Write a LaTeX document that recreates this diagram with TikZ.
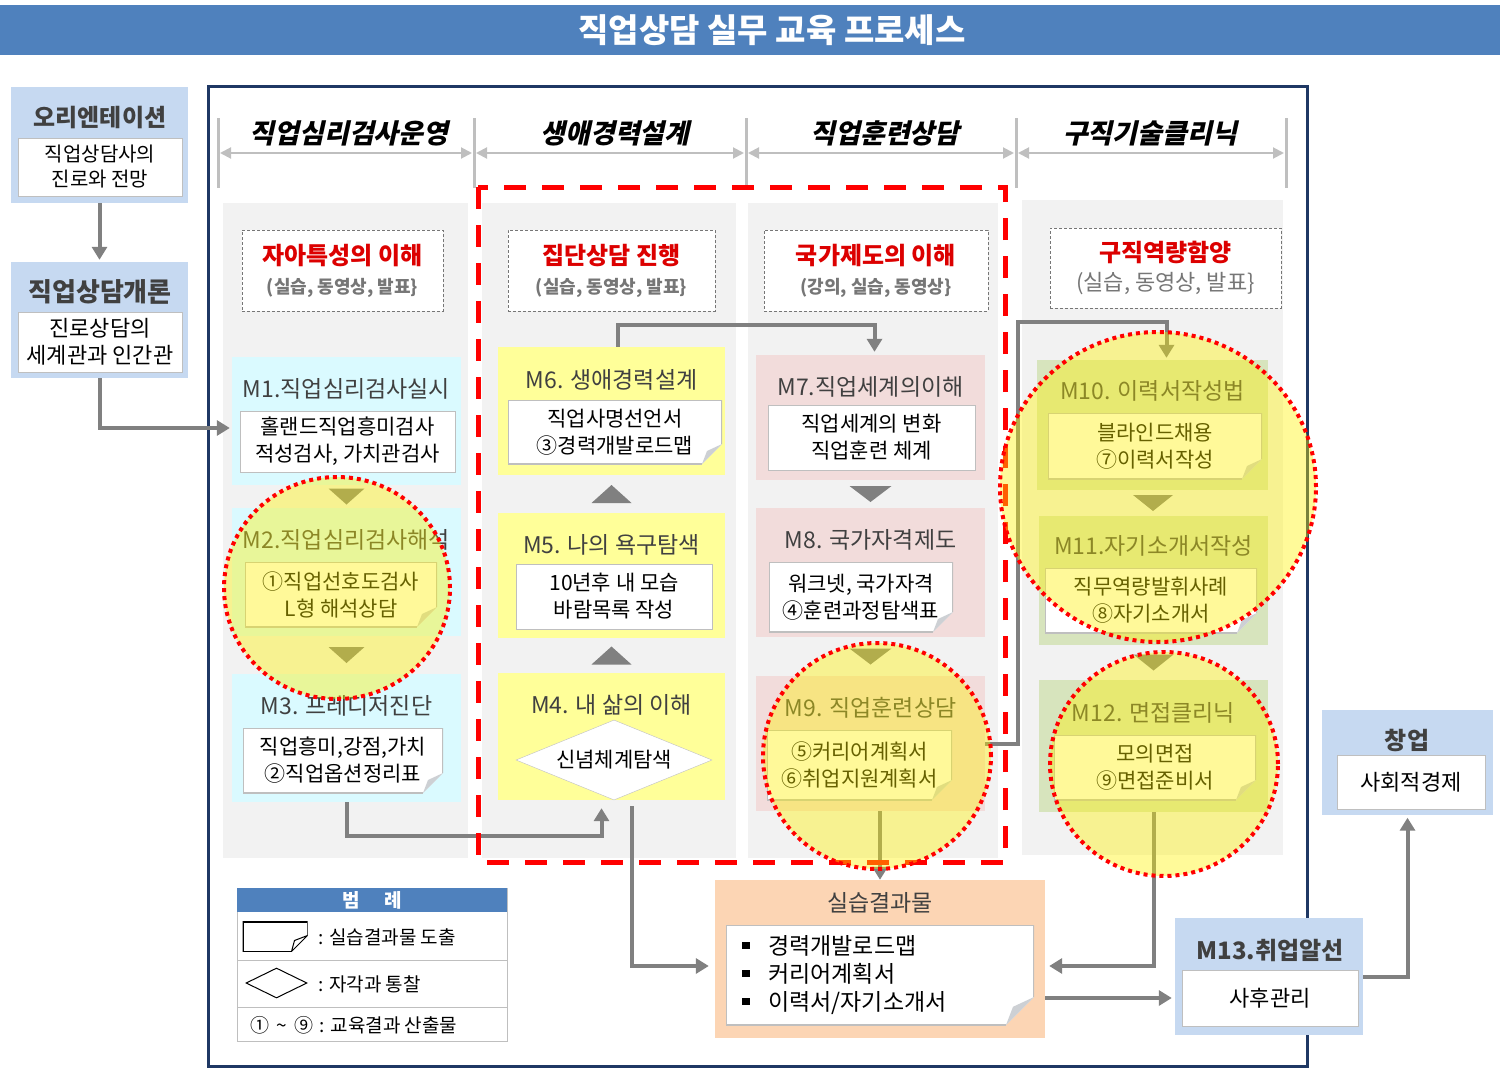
\documentclass[tikz,border=0pt]{standalone}
\usepackage{fontspec}
\setmainfont{Noto Sans CJK KR}
\newfontfamily\hdfont[FakeSlant=0.22]{Noto Sans CJK KR}
\usetikzlibrary{arrows.meta,positioning,calc,shapes.geometric}
\definecolor{barblue}{RGB}{79,129,189}
\definecolor{navy}{RGB}{31,56,100}
\definecolor{colgrey}{RGB}{242,242,242}
\definecolor{sepgrey}{RGB}{191,191,191}
\definecolor{arrgrey}{RGB}{128,128,128}
\definecolor{ink}{RGB}{64,64,64}
\definecolor{subred}{RGB}{220,0,0}
\definecolor{subgrey}{RGB}{118,118,118}
\definecolor{lblue}{RGB}{198,217,241}
\definecolor{cyanbg}{RGB}{218,250,255}
\definecolor{yelbg}{RGB}{255,255,153}
\definecolor{pinkbg}{RGB}{242,220,219}
\definecolor{greenbg}{RGB}{215,228,189}
\definecolor{peach}{RGB}{252,213,180}
\definecolor{foldgrey}{RGB}{205,208,212}
\newcommand{\sqb}{\rule[0.22em]{0.34em}{0.34em}\hspace{0.8em}}
\tikzset{
  bar/.style={fill=barblue,minimum width=1500,minimum height=50,inner sep=0pt},
  bartext/.style={text=white,font=\bfseries\fontsize{33}{38}\selectfont},
  frame/.style={draw=navy,line width=3pt},
  colbg/.style={fill=colgrey},
  sepline/.style={draw=sepgrey,line width=3pt},
  dimarr/.style={{Triangle[length=11pt,width=11pt]}-{Triangle[length=11pt,width=11pt]},draw=sepgrey,line width=2pt},
  hdr/.style={font=\hdfont\bfseries\fontsize{27}{32}\selectfont},
  subj/.style={draw=subgrey,densely dashed,fill=white,align=center,inner sep=0pt,font=\fontsize{24}{29}\selectfont},
  modbox/.style={fill=#1,inner sep=0pt},
  modtitle/.style={text=ink,inner sep=0pt,font=\fontsize{23}{27}\selectfont},
  inbox/.style={draw=sepgrey,fill=white,inner sep=0pt,align=center,font=\fontsize{21}{27}\selectfont},
  note/.style 2 args={fill=white,inner sep=0pt,align=center,font=\fontsize{21}{27}\selectfont,
    path picture={
      \coordinate (se) at (path picture bounding box.south east);
      \fill[#1] ($(se)+(-#2,0)$) -- (se) -- ($(se)+(0,-#2)$) -- cycle;
      \fill[foldgrey] ($(se)+(0,-#2)$) -- ($(se)+(-0.75*#2,-0.65*#2)$) -- ($(se)+(-#2,0)$) -- cycle;
      \draw[sepgrey,line width=2pt] ($(se)+(0,-#2)$) -- (path picture bounding box.north east)
        -- (path picture bounding box.north west) -- (path picture bounding box.south west) -- ($(se)+(-#2,0)$);
    }},
  diam/.style={diamond,aspect=2.45,draw=sepgrey,fill=white,inner sep=0pt,font=\fontsize{21}{24}\selectfont},
  tri/.style={fill=arrgrey},
  arr/.style={draw=arrgrey,line width=4pt,-{Triangle[length=13pt,width=15pt]}},
  reddash/.style={draw=red,line width=5pt,dash pattern=on 22pt off 16pt},
  hilite/.style={fill=yellow,fill opacity=0.4,draw=red,draw opacity=1,line width=4pt,dash pattern=on 4pt off 4pt},
  legnote/.style={minimum width=65,minimum height=30,inner sep=0pt,
    path picture={
      \coordinate (se) at (path picture bounding box.south east);
      \draw[line width=2pt] ($(se)+(0,-16)$) -- (path picture bounding box.north east)
        -- (path picture bounding box.north west) -- (path picture bounding box.south west) -- ($(se)+(-16,0)$);
      \draw[line width=1pt,fill=white] ($(se)+(0,-16)$) -- ($(se)+(-13,-11)$) -- ($(se)+(-16,0)$) -- cycle;
    }},
  legtext/.style={anchor=west,inner sep=0pt,font=\fontsize{19}{22}\selectfont},
}
\begin{document}
\begin{tikzpicture}[x=1pt,y=-1pt]
  \useasboundingbox (0,0) rectangle (1500,1068);
  % title
  \node[bar] (bar) at (750,30) {};
  \node[bartext] (bart) at (772,30) {직업상담 실무 교육 프로세스};
  \draw[frame] (208,86) rectangle (1307,1066);

  % left column
  \node[modbox=lblue,minimum width=177,minimum height=116] (ori) at (99.5,145) {};
  \node[modtitle,font=\bfseries\fontsize{24}{28}\selectfont] (orit) at (100,118) {오리엔테이션};
  \node[inbox,minimum width=164,minimum height=58,font=\fontsize{20}{25}\selectfont] (orib) at (100,167) {직업상담사의\\진로와 전망};
  \node[modbox=lblue,minimum width=177,minimum height=116] (intro) at (99.5,320) {};
  \node[modtitle,font=\bfseries\fontsize{26}{30}\selectfont] (introt) at (100,292) {직업상담개론};
  \node[inbox,minimum width=164,minimum height=60,font=\fontsize{22}{27}\selectfont] (introb) at (100,342) {진로상담의\\세계관과 인간관};

  % column heads
  \foreach \x [count=\i] in {218,474,746,1016,1286} {
    \draw[sepline] (\x,118) -- (\x,188);
    \coordinate (d\i) at (\x,153);
  }
  \draw[dimarr,shorten <=2pt,shorten >=2pt] (d1) -- (d2);
  \draw[dimarr,shorten <=2pt,shorten >=2pt] (d2) -- (d3);
  \draw[dimarr,shorten <=2pt,shorten >=2pt] (d3) -- (d4);
  \draw[dimarr,shorten <=2pt,shorten >=2pt] (d4) -- (d5);
  \node[hdr] (h1) at (349,133) {직업심리검사운영};
  \node[hdr] (h2) at (615,133) {생애경력설계};
  \node[hdr] (h3) at (885,133) {직업훈련상담};
  \node[hdr] (h4) at (1150,133) {구직기술클리닉};

  % column backgrounds
  \fill[colbg] (223,203) rectangle (468,858);
  \fill[colbg] (482,203) rectangle (736,858);
  \fill[colbg] (748,203) rectangle (998,858);
  \fill[colbg] (1022,200) rectangle (1283,855);

  % subjects
  \node[subj,minimum width=201,minimum height=81] (s1) at (342.5,270.5)
    {\textcolor{subred}{\bfseries 자아특성의 이해}\\\textcolor{subgrey}{\bfseries\fontsize{18}{20}\selectfont (실습, 동영상, 발표\}}};
  \node[subj,minimum width=207,minimum height=81] (s2) at (611.5,270.5)
    {\textcolor{subred}{\bfseries 집단상담 진행}\\\textcolor{subgrey}{\bfseries\fontsize{18}{20}\selectfont (실습, 동영상, 발표\}}};
  \node[subj,minimum width=224,minimum height=81] (s3) at (876,270.5)
    {\textcolor{subred}{\bfseries 국가제도의 이해}\\\textcolor{subgrey}{\bfseries\fontsize{18}{20}\selectfont (강의, 실습, 동영상\}}};
  \node[subj,minimum width=231,minimum height=80] (s4) at (1165.5,268)
    {\textcolor{subred}{\bfseries 구직역량함양}\\\textcolor{subgrey}{\fontsize{22}{25}\selectfont (실습, 동영상, 발표\}}};

  % column 1
  \node[modbox=cyanbg,minimum width=229,minimum height=128] (m1) at (346.5,421) {};
  \node[modtitle] (m1t) at (346.5,389) {M1.직업심리검사실시};
  \node[inbox,minimum width=215,minimum height=61] (m1b) at (347.5,441.5) {홀랜드직업흥미검사\\적성검사, 가치관검사};
  \node[modbox=cyanbg,minimum width=229,minimum height=128] (m2) at (346.5,572) {};
  \node[modtitle] (m2t) at (346.5,540) {M2.직업심리검사해석};
  \node[note={cyanbg}{20},minimum width=192,minimum height=65] (m2b) at (341,594.5) {①직업선호도검사\\L형 해석상담};
  \node[modbox=cyanbg,minimum width=229,minimum height=128] (m3) at (346.5,738) {};
  \node[modtitle] (m3t) at (346.5,706) {M3. 프레디저진단};
  \node[note={cyanbg}{20},minimum width=200,minimum height=65] (m3b) at (343,760.5) {직업흥미,강점,가치\\②직업옵션정리표};
  \fill[tri] ($(m1.south)!.5!(m2.north)$) ++(-18,-8) -- ++(36,0) -- ++(-18,16) -- cycle;
  \fill[tri] ($(m2.south)!.5!(m3.north)$) ++(-18,-8) -- ++(36,0) -- ++(-18,16) -- cycle;

  % column 2
  \node[modbox=yelbg,minimum width=227,minimum height=128] (m6) at (611.5,411) {};
  \node[modtitle] (m6t) at (611.5,380) {M6. 생애경력설계};
  \node[note={yelbg}{20},minimum width=214,minimum height=64] (m6b) at (615,432) {직업사명선언서\\③경력개발로드맵};
  \node[modbox=yelbg,minimum width=227,minimum height=125] (m5) at (611.5,575.5) {};
  \node[modtitle] (m5t) at (611.5,545) {M5. 나의 욕구탐색};
  \node[inbox,minimum width=196,minimum height=65] (m5b) at (614,596.5) {10년후 내 모습\\바람목록 작성};
  \node[modbox=yelbg,minimum width=227,minimum height=127] (m4) at (611.5,736.5) {};
  \node[modtitle] (m4t) at (611.5,705) {M4. 내 삶의 이해};
  \node[diam,minimum width=196,minimum height=80] (m4d) at (614,760) {신념체계탐색};
  \fill[tri] ($(m5.south)!.5!(m4.north)$) ++(-20,9) -- ++(40,0) -- ++(-20,-18) -- cycle;
  \fill[tri] ($(m6.south)!.5!(m5.north)$) ++(-20,9) -- ++(40,0) -- ++(-20,-18) -- cycle;

  % column 3
  \node[modbox=pinkbg,minimum width=229,minimum height=125] (m7) at (870.5,417.5) {};
  \node[modtitle] (m7t) at (870.5,387) {M7.직업세계의이해};
  \node[inbox,minimum width=207,minimum height=65] (m7b) at (871.5,437.5) {직업세계의 변화\\직업훈련 체계};
  \node[modbox=pinkbg,minimum width=229,minimum height=129] (m8) at (870.5,572.5) {};
  \node[modtitle] (m8t) at (870.5,540) {M8. 국가자격제도};
  \node[note={pinkbg}{20},minimum width=184,minimum height=70] (m8b) at (861,597) {워크넷, 국가자격\\④훈련과정탐색표};
  \node[modbox=pinkbg,minimum width=229,minimum height=135] (m9) at (870.5,743.5) {};
  \node[modtitle] (m9t) at (870.5,708) {M9. 직업훈련상담};
  \node[note={pinkbg}{20},minimum width=185,minimum height=70] (m9b) at (859.5,765) {⑤커리어계획서\\⑥취업지원계획서};
  \fill[tri] ($(m7.south)!.5!(m8.north)$) ++(-21,-8) -- ++(42,0) -- ++(-21,16) -- cycle;
  \fill[tri] ($(m8.south)!.5!(m9.north)$) ++(-21,-8) -- ++(42,0) -- ++(-21,16) -- cycle;

  % column 4
  \node[modbox=greenbg,minimum width=231,minimum height=130] (m10) at (1152.5,425) {};
  \node[modtitle] (m10t) at (1152.5,391) {M10. 이력서작성법};
  \node[note={greenbg}{20},minimum width=214,minimum height=66] (m10b) at (1155,446) {블라인드채용\\⑦이력서작성};
  \node[modbox=greenbg,minimum width=229,minimum height=129] (m11) at (1153.5,580.5) {};
  \node[modtitle] (m11t) at (1153.5,546) {M11.자기소개서작성};
  \node[note={greenbg}{20},minimum width=212,minimum height=65] (m11b) at (1151,600.5) {직무역량발휘사례\\⑧자기소개서};
  \node[modbox=greenbg,minimum width=229,minimum height=132] (m12) at (1153.5,746) {};
  \node[modtitle] (m12t) at (1153.5,713) {M12. 면접클리닉};
  \node[note={greenbg}{20},minimum width=202,minimum height=65] (m12b) at (1155,767.5) {모의면접\\⑨면접준비서};
  \fill[tri] ($(m10.south)!.5!(m11.north)$) ++(-20,-8) -- ++(40,0) -- ++(-20,16) -- cycle;
  \fill[tri] ($(m11.south)!.5!(m12.north)$) ++(-20,-8) -- ++(40,0) -- ++(-20,16) -- cycle;

  % outputs
  \node[modbox=peach,minimum width=330,minimum height=158] (res) at (880,959) {};
  \node[modtitle,font=\fontsize{23}{27}\selectfont] (rest) at (880,903) {실습결과물};
  \node[note={peach}{28},minimum width=308,minimum height=100,text width=276,align=left,
    font=\fontsize{23}{28}\selectfont] (resb) at (880,975) {\sqb 경력개발로드맵\\\sqb 커리어계획서\\\sqb 이력서/자기소개서};
  \node[modbox=lblue,minimum width=188,minimum height=117] (m13) at (1269,976.5) {};
  \node[modtitle,font=\bfseries\fontsize{24}{28}\selectfont] (m13t) at (1270,950) {M13.취업알선};
  \node[inbox,minimum width=176,minimum height=56,font=\fontsize{22}{26}\selectfont] (m13b) at (1270,998) {사후관리};
  \node[modbox=lblue,minimum width=171,minimum height=105] (start) at (1407.5,762) {};
  \node[modtitle,font=\bfseries\fontsize{24}{28}\selectfont] (startt) at (1407,740) {창업};
  \node[inbox,minimum width=148,minimum height=54,font=\fontsize{22}{26}\selectfont] (startb) at (1411,782) {사회적경제};

  % connectors
  \draw[arr,shorten >=2pt] (ori.south) -- (intro.north);
  \draw[arr,shorten >=2pt] (intro.south) |- ($(m1.west)+(0,7)$);
  \draw[arr,shorten >=8pt] (m3.south) -- ++(0,34) -| ($(m4.south)+(-10,0)$);
  \draw[arr,shorten >=6pt] ($(m4.south)+(20,6)$) |- ($(res.west)+(0,7)$);
  \draw[arr,shorten >=3pt] ($(m6.north)+(6,0)$) -- ++(0,-22) -| ($(m7.north)+(4,0)$);
  \draw[arr] (m9.south -| res.north) -- (res.north);
  \draw[arr,shorten >=2pt] (m9.east) -- ++(33,0) |- ($(m10.north)+(14,-38)$) -- ($(m10.north)+(14,0)$);
  \draw[arr,shorten >=4pt] (m12.south) |- ($(res.east)+(0,7)$);
  \draw[arr,shorten >=3pt] ($(res.east)+(0,39)$) coordinate (r2) -- (r2 -| m13.west);
  \draw[arr,shorten >=3pt] (m13.east) -| (start.south);

  % red group and highlights
  \draw[reddash] (478,187) rectangle (1005,862);
  \draw[hilite] (337,588) ellipse [x radius=113pt,y radius=111pt];
  \draw[hilite] (877,756) ellipse [x radius=114pt,y radius=113pt];
  \draw[hilite] (1158,487) ellipse [x radius=158pt,y radius=155pt];
  \draw[hilite] (1164,764) ellipse [x radius=114pt,y radius=112pt];

  % legend
  \node[draw=sepgrey,fill=white,minimum width=270,minimum height=153,inner sep=0pt] (leg) at (372,964.5) {};
  \node[fill=barblue,minimum width=270,minimum height=24,inner sep=0pt,text=white,
    font=\bfseries\fontsize{19}{21}\selectfont] (legh) at (372,900) {범\hspace{1.3em}례};
  \draw[sepgrey] (237,960) -- (507,960);
  \draw[sepgrey] (237,1007) -- (507,1007);
  \node[legnote] (lg1) at (275,936.5) {};
  \node[legtext] (lg1t) at (318,937) {: 실습결과물 도출};
  \node[diamond,draw,line width=1pt,minimum width=61,minimum height=30,inner sep=0pt] (lg2) at (276.5,983) {};
  \node[legtext] (lg2t) at (318,984) {: 자각과 통찰};
  \node[legtext] (lg3t) at (250,1025) {①\hspace{0.4em}\textasciitilde\hspace{0.4em}⑨\hspace{0.3em}: 교육결과 산출물};
\end{tikzpicture}
\end{document}
